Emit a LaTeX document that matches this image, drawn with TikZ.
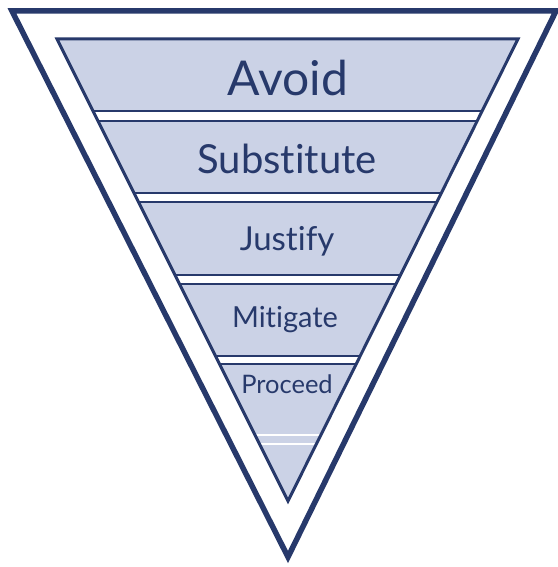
\documentclass[tikz,border=0pt]{standalone}
\usepackage{fontspec}
\setmainfont{Lato}[Ligatures=NoCommon]
\definecolor{navy}{HTML}{27396B}
\definecolor{paleblue}{HTML}{CBD2E6}
\tikzset{level/.style={text=navy, anchor=base, inner sep=0pt}}

\begin{document}
\begin{tikzpicture}[x=1pt,y=-1pt]
\useasboundingbox (0,0) rectangle (557,567);
\fill[white] (0,0) rectangle (557,567);
% inner levels
\begin{scope}
\clip (57,39) -- (518,39) -- (288,501) -- cycle;
\fill[paleblue] (0,0) rectangle (557,567);
\foreach \ya/\yb in {111/121,193/202,275/284,356/364} {
  \fill[white] (0,\ya) rectangle (557,\yb);
  \draw[navy, line width=2pt] (0,\ya) -- (557,\ya);
  \draw[navy, line width=1.6pt] (0,\yb) -- (557,\yb);
}
\draw[white, line width=1.5pt] (0,435) -- (557,435);
\draw[white, line width=1.5pt] (0,444) -- (557,444);
\end{scope}
\draw[navy, line width=3pt, line join=miter] (57,39) -- (518,39) -- (288,501) -- cycle;
\draw[navy, line width=5.5pt, line join=miter] (12,11) -- (556,11) -- (288,557) -- cycle;
\node[level, font=\fontsize{48}{50}\selectfont] (avoid) at (288,96) {Avoid};
\node[level, font=\fontsize{40}{44}\selectfont] (substitute) at (287,173) {Substitute};
\node[level, font=\fontsize{33}{36}\selectfont] (justify) at (287,250) {Justify};
\node[level, font=\fontsize{29}{32}\selectfont] (mitigate) at (285,327) {Mitigate};
\node[level, font=\fontsize{25.5}{28}\selectfont] (proceed) at (287,393) {Proceed};
\end{tikzpicture}
\end{document}
